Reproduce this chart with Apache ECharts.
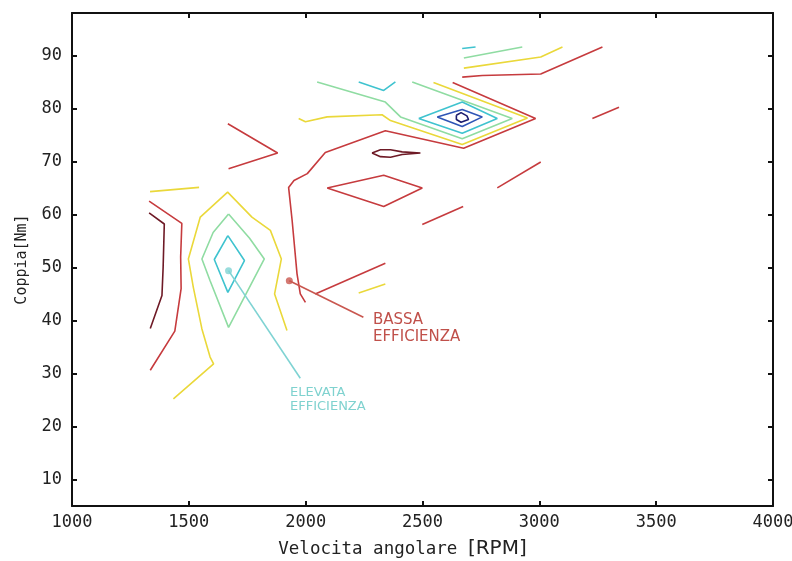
<!DOCTYPE html>
<html>
<head>
<meta charset="utf-8">
<script src="https://cdn.jsdelivr.net/npm/echarts@6/dist/echarts.min.js"></script>
<style>
  html, body { margin: 0; padding: 0; background: #ffffff; }
  #chart { width: 792px; height: 561px; }
</style>
</head>
<body>
<div id="chart"></div>
<script>
// ---- axis ticks ----
const xTicks = [1000, 1500, 2000, 2500, 3000, 3500, 4000];
const yTicks = [10, 20, 30, 40, 50, 60, 70, 80, 90];

// ---- contour polylines (RPM, Nm) ----
// level 1 (dark red)
const maroonLeft = [[1330,60.3],[1395,58.2],[1390,50],[1385,44.7],[1335,38.5]];
const maroonSmall = [[2284,71.6],[2320,72.2],[2363,72.2],[2413,71.8],[2491,71.6],[2413,71.3],[2363,70.8],[2320,70.9],[2284,71.6]];
// level 2 (red)
const redLeft = [[1330,62.5],[1470,58.3],[1465,52],[1467,46],[1440,38],[1335,30.6]];
const redV = [[1667,77.1],[1880,71.6],[1670,68.6]];
const redMain = [[1999,43.4],[1977,45],[1963,48.8],[1942,58.9],[1927,65.1],[1950,66.4],[2007,67.7],[2084,71.7],[2341,75.8],[2676,72.5],[2984,78.1],[2629,84.9]];
const redDiamond = [[2092,65],[2334,67.4],[2499,65],[2334,61.5],[2092,65]];
const redLow = [[2041,45],[2341,50.8]];
const redMid = [[2499,58.1],[2674,61.5]];
const redLowRight = [[2820,65],[3006,69.9]];
const redShortRight = [[3227,78.1],[3341,80.2]];
const redTop = [[2670,85.9],[2756,86.2],[3006,86.5],[3270,91.6]];
// level 3 (yellow)
const yellowLeftTop = [[1334,64.3],[1544,65.1]];
const yellowLeft = [[1434,25.2],[1606,31.8],[1591,33.1],[1556,38.4],[1519,46.3],[1498,51.6],[1549,59.5],[1666,64.2],[1770,59.5],[1849,57],[1896,51.6],[1867,45],[1920,38.1]];
const yellowMain = [[1970,78.1],[1999,77.5],[2092,78.4],[2327,78.8],[2363,77.7],[2670,73.2],[2949,78.2],[2547,84.9]];
const yellowLow = [[2227,45.2],[2341,46.9]];
const yellowTop = [[2677,87.6],[3006,89.7],[3099,91.6]];
// level 4 (green)
const greenLeft = [[1670,60.1],[1760,55.5],[1823,51.6],[1670,38.7],[1591,47.5],[1556,51.6],[1604,56.6],[1670,60.1]];
const greenMain = [[2049,85],[2341,81.2],[2406,78.4],[2670,74.3],[2884,78.1],[2456,85]];
const greenTop = [[2677,89.5],[2927,91.6]];
// level 5 (cyan)
const cyanLeft = [[1667,56],[1738,51.3],[1667,45.3],[1609,51.5],[1667,56]];
const cyanMain = [[2484,78.1],[2670,81.2],[2820,78.1],[2670,75.3],[2484,78.1]];
const cyanV = [[2227,85],[2334,83.4],[2384,85]];
const cyanTop = [[2670,91.3],[2727,91.6]];
// level 6 (blue)
const blueMain = [[2563,78.4],[2670,79.8],[2756,78.4],[2670,76.6],[2563,78.4]];
// level 7 (navy)
const navyMain = [[2645,78.7],[2665,79.2],[2690,78.6],[2697,77.9],[2665,77.4],[2645,77.9],[2645,78.7]];

// ---- annotations ----
const lowEffPoint = [1930, 47.5];
const lowEffPointer = [[1930,47.5],[2247,40.6]];
const highEffPoint = [1670, 49.4];
const highEffPointer = [[1670,49.4],[1977,29.1]];
const lowEffText = 'BASSA\nEFFICIENZA';
const highEffText = 'ELEVATA\nEFFICIENZA';

const COL = {
  maroon: '#6e1a26', red: '#c63b3e', yellow: '#ead83a', green: '#8fdca2',
  cyan: '#3fc3cf', blue: '#2f55b6', navy: '#1c1c6e'
};

const contourSets = [
  [maroonLeft, COL.maroon], [maroonSmall, COL.maroon],
  [redLeft, COL.red], [redV, COL.red], [redMain, COL.red], [redDiamond, COL.red],
  [redLow, COL.red], [redMid, COL.red], [redLowRight, COL.red], [redShortRight, COL.red], [redTop, COL.red],
  [yellowLeftTop, COL.yellow], [yellowLeft, COL.yellow], [yellowMain, COL.yellow], [yellowLow, COL.yellow], [yellowTop, COL.yellow],
  [greenLeft, COL.green], [greenMain, COL.green], [greenTop, COL.green],
  [cyanLeft, COL.cyan], [cyanMain, COL.cyan], [cyanV, COL.cyan], [cyanTop, COL.cyan],
  [blueMain, COL.blue], [navyMain, COL.navy]
];

const series = contourSets.map(([d, c]) => ({
  type: 'line', data: d, showSymbol: false, symbol: 'none', smooth: false,
  lineStyle: { color: c, width: 1.6 }, silent: true, animation: false, z: 3
}));

series.push({
  type: 'line', data: lowEffPointer, symbol: 'none',
  lineStyle: { color: '#c9574f', width: 1.6 }, animation: false, z: 4
});
series.push({
  type: 'line', data: highEffPointer, symbol: 'none',
  lineStyle: { color: '#7fd3d3', width: 1.6 }, animation: false, z: 4
});
series.push({
  type: 'scatter', data: [lowEffPoint], symbolSize: 7,
  itemStyle: { color: '#c9574f' }, animation: false, z: 5
});
series.push({
  type: 'scatter', data: [highEffPoint], symbolSize: 7,
  itemStyle: { color: '#7fd3d3' }, animation: false, z: 5
});

const mono = 'DejaVu Sans Mono';
const axisLineStyle = { color: '#111', width: 2 };
const plainNum = v => String(v);

const option = {
  backgroundColor: '#ffffff',
  animation: false,
  grid: { left: 72, right: 19, top: 13, bottom: 55, outerBoundsMode: 'none', containLabel: false },
  xAxis: [
    {
      type: 'value', min: 1000, max: 4000, position: 'bottom',
      name: '{a|Velocita angolare }{b|[RPM]}',
      nameLocation: 'middle', nameGap: 33,
      nameTextStyle: {
        padding: [0, 40, 0, 0],
        rich: {
          a: { fontFamily: mono, fontSize: 17.5, color: '#222' },
          b: { fontFamily: 'DejaVu Sans', fontSize: 20, color: '#222' }
        }
      },
      axisLine: { show: true, onZero: false, lineStyle: axisLineStyle },
      axisTick: { show: true, inside: true, length: 5, customValues: xTicks, lineStyle: axisLineStyle },
      axisLabel: { customValues: xTicks, formatter: plainNum, fontFamily: mono, fontSize: 17, color: '#222', margin: 8, hideOverlap: false },
      splitLine: { show: false }
    },
    {
      type: 'value', min: 1000, max: 4000, position: 'top',
      axisLine: { show: true, onZero: false, lineStyle: axisLineStyle },
      axisTick: { show: true, inside: true, length: 5, customValues: xTicks, lineStyle: axisLineStyle },
      axisLabel: { show: false },
      splitLine: { show: false }
    }
  ],
  yAxis: [
    {
      type: 'value', min: 5, max: 98, position: 'left',
      name: 'Coppia[Nm]', nameLocation: 'middle', nameGap: 42, nameRotate: 90,
      nameTextStyle: { fontFamily: mono, fontSize: 15, color: '#222' },
      axisLine: { show: true, onZero: false, lineStyle: axisLineStyle },
      axisTick: { show: true, inside: true, length: 5, customValues: yTicks, lineStyle: axisLineStyle },
      axisLabel: { customValues: yTicks, formatter: plainNum, fontFamily: mono, fontSize: 17, color: '#222', margin: 10 },
      splitLine: { show: false }
    },
    {
      type: 'value', min: 5, max: 98, position: 'right',
      axisLine: { show: true, onZero: false, lineStyle: axisLineStyle },
      axisTick: { show: true, inside: true, length: 5, customValues: yTicks, lineStyle: axisLineStyle },
      axisLabel: { show: false },
      splitLine: { show: false }
    }
  ],
  graphic: [
    {
      type: 'text', left: 373, top: 312, z: 10,
      style: { text: lowEffText, fill: '#c0504a', font: '15px "DejaVu Sans"', lineHeight: 16.5 }
    },
    {
      type: 'text', left: 290, top: 386, z: 10,
      style: { text: highEffText, fill: '#7fd2cf', font: '13px "DejaVu Sans"', lineHeight: 14 }
    }
  ],
  series: series
};

const chart = echarts.init(document.getElementById('chart'), null, { renderer: 'canvas' });
chart.setOption(option);
</script>
</body>
</html>
